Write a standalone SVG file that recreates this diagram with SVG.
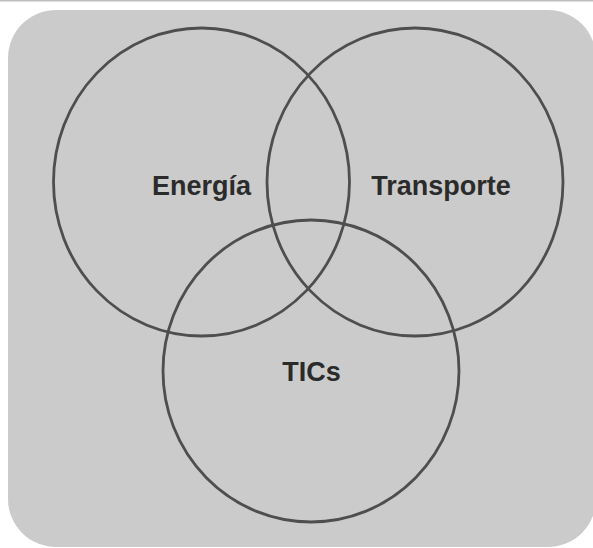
<svg xmlns="http://www.w3.org/2000/svg" width="593" height="548" viewBox="0 0 593 548">
<style>
.bg{fill:#cbcbcb}
.ring{fill:none;stroke:#4e4e4e;stroke-width:2.8}
.lbl{font-family:"Liberation Sans",Arial,sans-serif;font-weight:bold;font-size:27px;fill:#2b2b2b;text-anchor:middle}
</style>
<rect x="0" y="0" width="593" height="548" fill="#ffffff"/>
<rect x="0" y="0" width="593" height="1.5" fill="#bdbdbd"/>
<rect class="bg" x="8" y="10" width="588" height="537" rx="48" ry="48"/>
<g id="connectors"></g>
<g id="energia">
<ellipse class="ring" cx="201.5" cy="182" rx="148" ry="154"/>
<text class="lbl" x="201.5" y="194.5">Energía</text>
</g>
<g id="transporte">
<ellipse class="ring" cx="415" cy="182" rx="148" ry="154"/>
<text class="lbl" x="441" y="195">Transporte</text>
</g>
<g id="tics">
<ellipse class="ring" cx="311" cy="371" rx="148" ry="151"/>
<text class="lbl" x="311.5" y="381">TICs</text>
</g>
</svg>
